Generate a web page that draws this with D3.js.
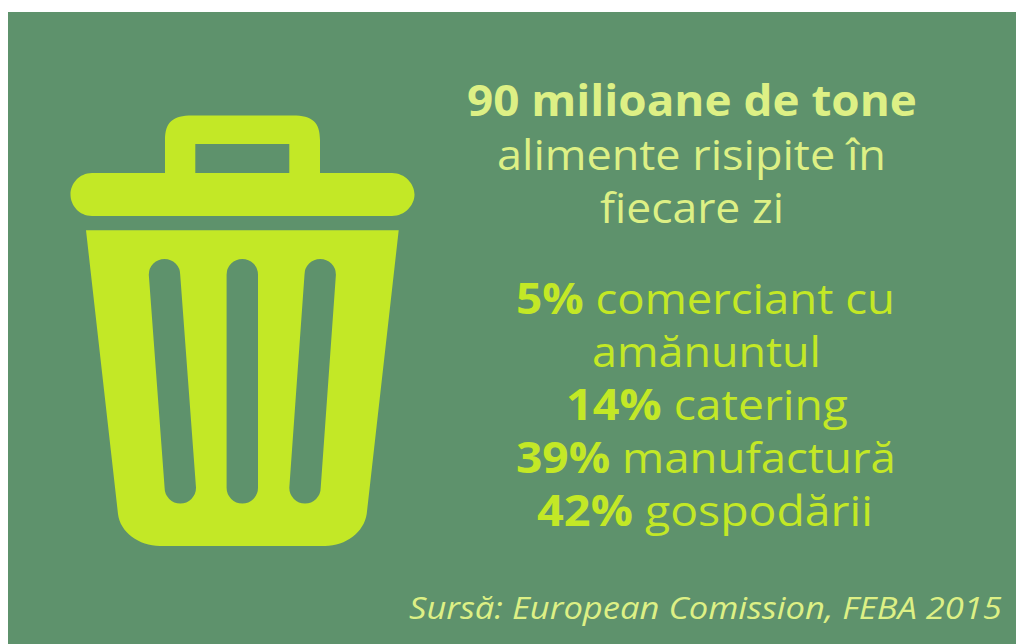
<!DOCTYPE html>
<html><head><meta charset="utf-8">
<script src="https://cdnjs.cloudflare.com/ajax/libs/d3/7.8.5/d3.min.js"></script>
<style>html,body{margin:0;padding:0;background:#fff}svg{display:block}</style>
</head><body><svg id="c" width="1016" height="644"></svg>
<script>
const titleBold = "90 milioane de tone";
const titleRest = ["alimente risipite în", "fiecare zi"];
const shares = ["5%", "14%", "39%", "42%"];
const sectors = ["comerciant cu", "catering", "manufactură", "gospodării"];
const sectorWrap = "amănuntul";
const source = "Sursă: European Comission, FEBA 2015";

const BG = "#5e926c", LIME = "#c3e826", PALE = "#ddf085";
const font = "'Open Sans','Noto Sans',sans-serif";
const svg = d3.select("#c");
svg.append("rect").attr("x",8).attr("y",12).attr("width",1008).attr("height",632).attr("fill",BG);

// Bin icon
const g = svg.append("g").attr("fill",LIME);
const lid = d3.path();
lid.moveTo(92,173); lid.lineTo(165,173); lid.lineTo(165,140);
lid.bezierCurveTo(165,122,173,115.5,192,115.5); lid.lineTo(293,115.5);
lid.bezierCurveTo(312,115.5,320,122,320,140); lid.lineTo(320,173); lid.lineTo(392,173);
lid.bezierCurveTo(405,173,414.5,184,414.5,194.5); lid.bezierCurveTo(414.5,205,405,216,392,216);
lid.lineTo(92,216); lid.bezierCurveTo(79,216,70.5,205,70.5,194.5); lid.bezierCurveTo(70.5,184,79,173,92,173); lid.closePath();
lid.moveTo(195.3,144); lid.lineTo(289.3,144); lid.lineTo(289.3,173); lid.lineTo(195.3,173); lid.closePath();
g.append("path").attr("fill-rule","evenodd").attr("d",lid.toString());

const body = d3.path();
body.moveTo(86,230.3); body.lineTo(398.7,230.3); body.lineTo(366.7,514);
body.bezierCurveTo(364,532,346,546,325,546); body.lineTo(160,546);
body.bezierCurveTo(139,546,120,532,118,514); body.closePath();
function slot(p,xt,xb,yt,yb,r){
  p.moveTo(xt-r,yt+r); p.arc(xt,yt+r,r,Math.PI,0); p.lineTo(xb+r,yb-r); p.arc(xb,yb-r,r,0,Math.PI); p.closePath();
}
[[164.5,180.3],[242.3,242.3],[320.2,305]].forEach(d=>slot(body,d[0],d[1],259,503.5,15.7));
g.append("path").attr("fill-rule","evenodd").attr("d",body.toString());

// Text: each line is fitted to its measured extent [left, right]
function line(x0,x1,y,parts,size,fill,style){
  const t = svg.append("text").attr("text-anchor","start")
    .attr("font-family",font).attr("font-size",size).attr("fill",fill)
    .attr("font-style",style||"normal");
  parts.forEach(p=>t.append("tspan").attr("font-weight",p[1]).attr("font-size",p[2]||size).text(p[0]));
  const k = (x1-x0)/t.node().getComputedTextLength();
  t.attr("transform",`translate(${x0},${y}) scale(${k},1)`);
}
line(467,917,115.5,[[titleBold,700]],43,PALE);
line(497,886,170,[[titleRest[0],370]],42,PALE);
line(600,784,223,[[titleRest[1],370]],42,PALE);
[
  [516,895,314,[[shares[0],700,42.5],[" "+sectors[0],370]]],
  [592,821,367,[[sectorWrap,370]]],
  [566,848,420,[[shares[1],700,42.5],[" "+sectors[1],370]]],
  [516,896,473,[[shares[2],700,42.5],[" "+sectors[2],370]]],
  [537,873,526,[[shares[3],700,42.5],[" "+sectors[3],370]]]
].forEach(r=>line(r[0],r[1],r[2],r[3],42,LIME));
line(409,1002,618.5,[[source,370]],30.5,PALE,"italic");
</script></body></html>
